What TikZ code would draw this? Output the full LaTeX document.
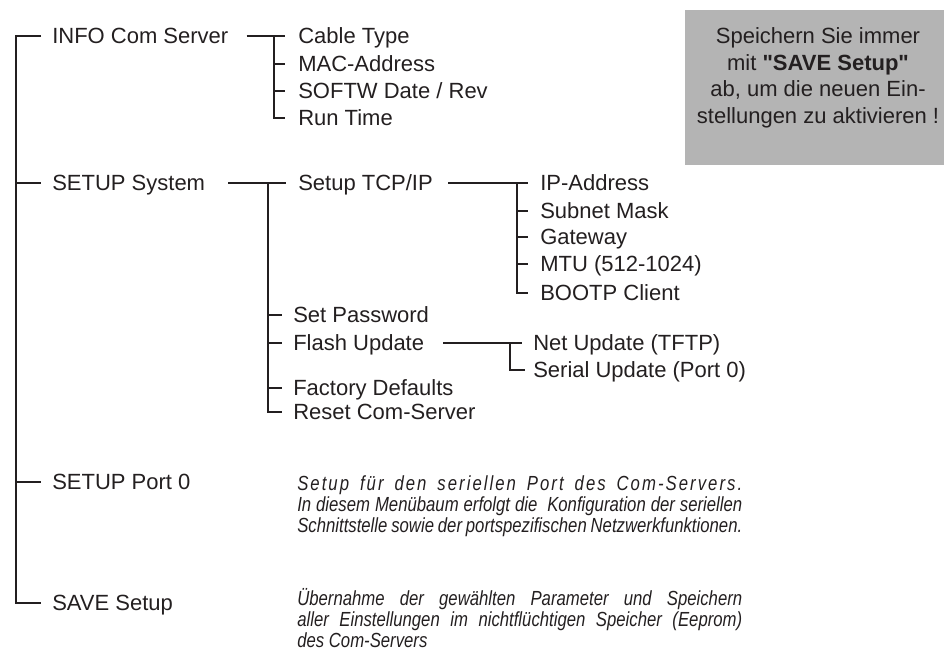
\documentclass[tikz,border=0pt]{standalone}
\usepackage{fontspec}
\setmainfont{Liberation Sans}
% plain family without TeX ligatures, keeps straight double quotes
\newfontfamily\notefont{Liberation Sans}
\newfontfamily\descfont{Liberation Sans}[FakeStretch=0.82]
\newfontfamily\descspaced{Liberation Sans}[FakeStretch=0.82,LetterSpace=10]
\usetikzlibrary{calc}
\definecolor{ink}{HTML}{231F20}
\definecolor{notegray}{RGB}{180,180,180}
% one justified line of the italic descriptions
\newcommand\fullline[1]{\makebox[333.75pt][s]{#1}}
\tikzset{
  item/.style={anchor=west, inner sep=0pt, text height=11.8pt, text depth=0pt,
    font=\fontsize{16.5}{19.5}\selectfont, text=ink},
  branch/.style={draw=ink, line width=2pt},
  trunk/.style={draw=ink, line width=2.2pt},
  desc/.style={anchor=base west, inner sep=0pt, align=left,
    font=\fontsize{15.3}{15.75}\descfont\itshape, text=ink},
}
\begin{document}
\begin{tikzpicture}[x=0.75pt, y=-0.75pt]
\useasboundingbox (0,0) rectangle (944,656);

% note box
\node[fill=notegray, inner sep=0pt, minimum width=194.25pt, minimum height=116.25pt,
  anchor=north west] (note) at (685,10) {};
\node[align=center, inner sep=0pt, font=\fontsize{16.5}{19.9}\notefont, text=ink]
  (notetext) at (818,78) {Speichern Sie immer\\ mit \textbf{"SAVE Setup"}\\
  ab, um die neuen Ein-\\ stellungen zu aktivieren !};

% top level menu
\node[item] (info) at (52,36) {INFO Com Server};
\node[item] (sys)  at (52,183) {SETUP System};
\node[item] (port) at (52,482) {SETUP Port 0};
\node[item] (save) at (52,603) {SAVE Setup};

% INFO Com Server
\node[item] (cable) at (298,36) {Cable Type};
\node[item] (mac)   at (298,64) {MAC-Address};
\node[item] (softw) at (298,91) {SOFTW Date / Rev};
\node[item] (run)   at (298,118) {Run Time};

% SETUP System
\node[item] (tcp)     at (298,183) {Setup TCP/IP};
\node[item] (pwd)     at (293,315) {Set Password};
\node[item] (flash)   at (293,343) {Flash Update};
\node[item] (factory) at (293,388) {Factory Defaults};
\node[item] (reset)   at (293,412) {Reset Com-Server};

% Setup TCP/IP
\node[item] (ip)     at (540,183) {IP-Address};
\node[item] (subnet) at (540,211) {Subnet Mask};
\node[item] (gw)     at (540,237) {Gateway};
\node[item] (mtu)    at (540,264) {MTU (512-1024)};
\node[item] (bootp)  at (540,293) {BOOTP Client};

% Flash Update
\node[item] (net)    at (533,343) {Net Update (TFTP)};
\node[item] (serial) at (533,370) {Serial Update (Port 0)};

% descriptions (anchored at the baseline of the last line)
\node[desc] (portdesc) at (297,532)
  {{\descspaced\itshape\fullline{Setup für den seriellen Port des Com-Servers.}}\\
   \fullline{In diesem Menübaum erfolgt die\ \ Konfiguration der seriellen}\\
   \fullline{Schnittstelle sowie der portspezifischen Netzwerkfunktionen.}};
\node[desc] (savedesc) at (297,647)
  {\fullline{Übernahme der gewählten Parameter und Speichern}\\
   \fullline{aller Einstellungen im nichtflüchtigen Speicher (Eeprom)}\\
   des Com-Servers};

% main trunk
\draw[trunk] ($(info.west)+(-11,0)$) -| ($(save.west)+(-36,0)$) -- ($(save.west)+(-11,0)$);
\foreach \n in {sys,port}
  \draw[trunk] ($(\n.west)+(-36,0)$) -- ($(\n.west)+(-11,0)$);

% INFO Com Server branch
\draw[branch] ($(info.east)+(18,0)$) -- ($(cable.west)+(-13,0)$);
\draw[branch] ($(cable.west)+(-24,0)$) |- ($(run.west)+(-13,0)$);
\foreach \n in {mac,softw}
  \draw[branch] ($(\n.west)+(-24,0)$) -- ($(\n.west)+(-13,0)$);

% SETUP System branch
\draw[branch] ($(sys.east)+(23,0)$) -- ($(tcp.west)+(-12,0)$);
\draw[branch] ($(tcp.west)+(-30,0)$) |- ($(reset.west)+(-11,0)$);
\foreach \n in {pwd,flash,factory}
  \draw[branch] ($(\n.west)+(-25,0)$) -- ($(\n.west)+(-11,0)$);

% Setup TCP/IP branch
\draw[branch] ($(tcp.east)+(15,0)$) -- ($(ip.west)+(-12,0)$);
\draw[branch] ($(ip.west)+(-23,0)$) |- ($(bootp.west)+(-12,0)$);
\foreach \n in {subnet,gw,mtu}
  \draw[branch] ($(\n.west)+(-23,0)$) -- ($(\n.west)+(-12,0)$);

% Flash Update branch
\draw[branch, line width=1.7pt] ($(flash.east)+(19,0)$) -- ($(net.west)+(-11,0)$);
\draw[branch, line width=1.7pt] ($(net.west)+(-23,0)$) |- ($(serial.west)+(-8,0)$);
\end{tikzpicture}
\end{document}
